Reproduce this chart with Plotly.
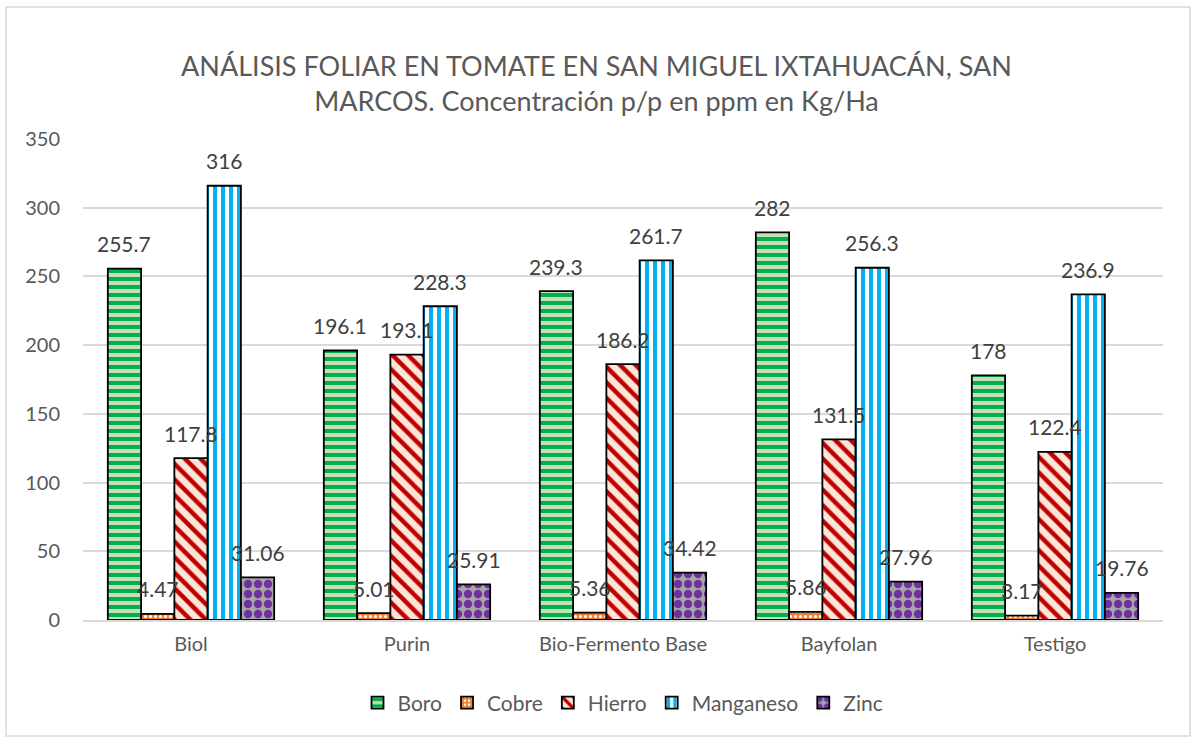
import plotly.graph_objects as go

categories = ["Biol", "Purin", "Bio-Fermento Base", "Bayfolan", "Testigo"]
series_names = ["Boro", "Cobre", "Hierro", "Manganeso", "Zinc"]
boro = [255.7, 196.1, 239.3, 282, 178]
cobre = [4.47, 5.01, 5.36, 5.86, 3.17]
hierro = [117.8, 193.1, 186.2, 131.5, 122.4]
manganeso = [316, 228.3, 261.7, 256.3, 236.9]
zinc = [31.06, 25.91, 34.42, 27.96, 19.76]
y_ticks = [0, 50, 100, 150, 200, 250, 300, 350]

series_values = [boro, cobre, hierro, manganeso, zinc]
patterns = [
    dict(shape="-", fgcolor="#00B050", bgcolor="#C5E0B4", size=8, solidity=0.5, fillmode="replace"),
    dict(shape=".", fgcolor="#FFFFFF", bgcolor="#ED7D31", size=5, solidity=0.3, fillmode="replace"),
    dict(shape="\\", fgcolor="#C00000", bgcolor="#FBE5D6", size=11, solidity=0.4, fillmode="replace"),
    dict(shape="|", fgcolor="#00B0F0", bgcolor="#FFFFFF", size=8, solidity=0.5, fillmode="replace"),
    dict(shape=".", fgcolor="#7030A0", bgcolor="#A6A6A6", size=10, solidity=0.55, fillmode="replace"),
]

FONT = "Lato"
W, H = 1193, 737
L, R, T, B = 83, 30, 139, 117
PW, PH = W - L - R, H - T - B
BARGAP = 0.23

fig = go.Figure()
for name, vals, pat in zip(series_names, series_values, patterns):
    fig.add_trace(go.Bar(
        x=categories, y=vals, name=name,
        marker=dict(pattern=pat, line=dict(color="#000000", width=1.8)),
    ))

n = len(series_names)
bw = (1 - BARGAP) / n
annotations = []
for si, vals in enumerate(series_values):
    for ci, v in enumerate(vals):
        annotations.append(dict(
            x=ci + (si - (n - 1) / 2) * bw, y=v, xref="x", yref="y",
            text=f"{v:g}", showarrow=False, yanchor="middle", yshift=25,
            font=dict(family=FONT, size=21, color="#404040"),
        ))

fig.update_layout(
    width=W, height=H,
    margin=dict(l=L, r=R, t=T, b=B),
    paper_bgcolor="white", plot_bgcolor="white",
    barmode="group", bargap=BARGAP, bargroupgap=0,
    title=dict(
        text="ANÁLISIS FOLIAR EN TOMATE EN SAN MIGUEL IXTAHUACÁN, SAN<br>MARCOS. Concentración p/p en ppm en Kg/Ha",
        x=0.5, xanchor="center", y=1 - 75.5 / H, yanchor="middle",
        font=dict(family=FONT, size=27, color="#595959"),
    ),
    font=dict(family=FONT, size=20, color="#595959"),
    xaxis=dict(showgrid=False, showline=True, linecolor="#D9D9D9", linewidth=1.5,
               ticks="", tickfont=dict(size=20, color="#595959"), range=[-0.5, 4.5],
               ticklabelstandoff=5),
    yaxis=dict(range=[0, 350], tickvals=y_ticks, showgrid=True, gridcolor="#D9D9D9",
               gridwidth=1.5, zeroline=False, showline=False, ticks="",
               tickfont=dict(size=20, color="#595959"), ticklabelstandoff=22),
    legend=dict(orientation="h", x=0.5, xanchor="center", y=(620 - 703) / PH, yanchor="middle",
                font=dict(size=21, color="#595959"), itemwidth=30, traceorder="normal"),
    annotations=annotations,
    shapes=[dict(type="rect", xref="paper", yref="paper",
                 x0=(6 - L) / PW, x1=(1190 - L) / PW,
                 y0=(620 - 736) / PH, y1=(620 - 7) / PH,
                 line=dict(color="#D9D9D9", width=1.5), fillcolor="rgba(0,0,0,0)", layer="below")],
)

fig.write_html("out.html", config={"displayModeBar": False},
               post_script="document.body.style.margin='0';document.body.style.overflow='hidden';")
